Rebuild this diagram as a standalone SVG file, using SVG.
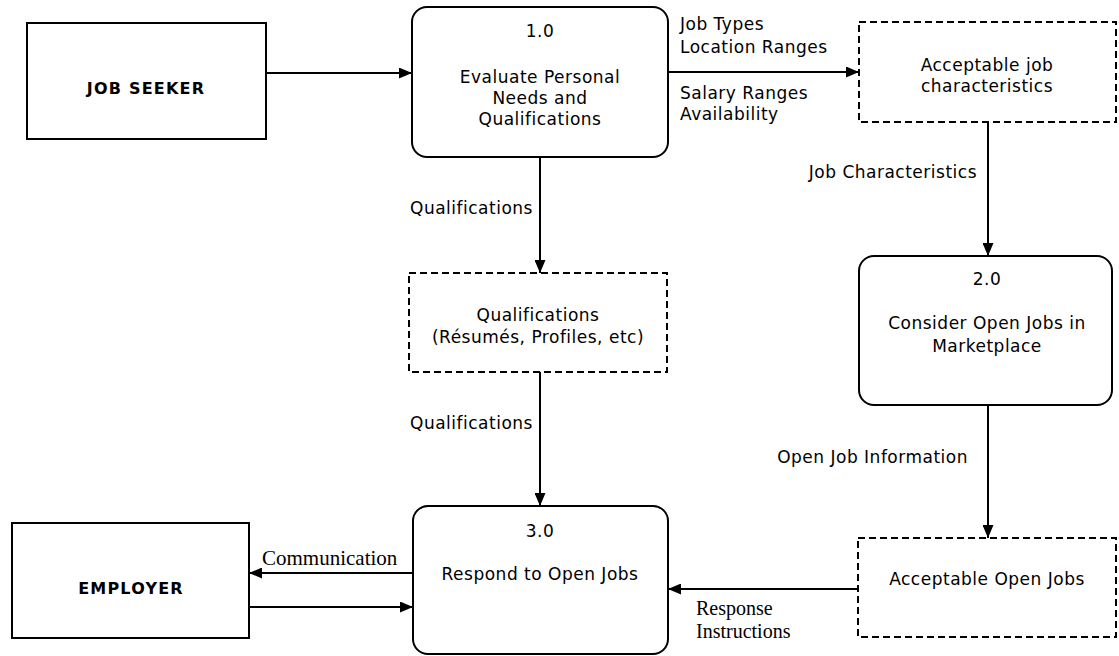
<svg xmlns="http://www.w3.org/2000/svg" width="1119" height="656" viewBox="0 0 1119 656">
<style>
.bg{fill:#fff}
.ent{fill:#fff;stroke:#000;stroke-width:2}
.proc{fill:#fff;stroke:#000;stroke-width:2}
.store{fill:#fff;stroke:#000;stroke-width:2;stroke-dasharray:7,4}
.t{font-family:"DejaVu Sans",Verdana,sans-serif;font-size:17px;fill:#000;letter-spacing:0.5px}
.c{text-anchor:middle}
.b{font-family:"DejaVu Sans",Verdana,sans-serif;font-size:16px;font-weight:bold;fill:#000;letter-spacing:1.2px;text-anchor:middle}
.s{font-family:"Liberation Serif","Times New Roman",serif;font-size:20px;fill:#000}
.ln{fill:none;stroke:#000;stroke-width:2}
</style>
<defs>
<marker id="ah" viewBox="0 0 13 11" refX="13" refY="5.5" markerWidth="13" markerHeight="11" markerUnits="userSpaceOnUse" orient="auto">
<path d="M0,0 L13,5.5 L0,11 Z" fill="#000"/>
</marker>
</defs>
<rect class="bg" x="0" y="0" width="1119" height="656"/>

<g id="connectors">
<line class="ln" x1="266" y1="73" x2="412" y2="73" marker-end="url(#ah)"/>
<line class="ln" x1="668" y1="72" x2="859" y2="72" marker-end="url(#ah)"/>
<line class="ln" x1="540" y1="157" x2="540" y2="273" marker-end="url(#ah)"/>
<line class="ln" x1="988" y1="122" x2="988" y2="256" marker-end="url(#ah)"/>
<line class="ln" x1="540" y1="372" x2="540" y2="506" marker-end="url(#ah)"/>
<line class="ln" x1="988" y1="405" x2="988" y2="538" marker-end="url(#ah)"/>
<line class="ln" x1="858" y1="589" x2="668" y2="589" marker-end="url(#ah)"/>
<line class="ln" x1="413" y1="573" x2="249" y2="573" marker-end="url(#ah)"/>
<line class="ln" x1="249" y1="607" x2="413" y2="607" marker-end="url(#ah)"/>
<text class="t" x="680" y="30">Job Types</text>
<text class="t" x="680" y="53">Location Ranges</text>
<text class="t" x="680" y="99">Salary Ranges</text>
<text class="t" x="680" y="120">Availability</text>
<text class="t" x="410" y="214">Qualifications</text>
<text class="t" x="410" y="429">Qualifications</text>
<text class="t" x="977" y="178" text-anchor="end">Job Characteristics</text>
<text class="t" x="968" y="463" text-anchor="end">Open Job Information</text>
<text class="s" x="262" y="565" style="font-size:21px">Communication</text>
<text class="s" x="696" y="615">Response</text>
<text class="s" x="696" y="638">Instructions</text>
</g>

<g id="job-seeker">
<rect class="ent" x="27" y="23" width="239" height="116"/>
<text class="b" x="146" y="94">JOB SEEKER</text>
</g>

<g id="employer">
<rect class="ent" x="12" y="523" width="237" height="115"/>
<text class="b" x="131" y="594">EMPLOYER</text>
</g>

<g id="p1">
<rect class="proc" x="412" y="7" width="256" height="150" rx="15" ry="15"/>
<text class="t c" x="540" y="37">1.0</text>
<text class="t c" x="540" y="83">Evaluate Personal</text>
<text class="t c" x="540" y="104">Needs and</text>
<text class="t c" x="540" y="125">Qualifications</text>
</g>

<g id="p2">
<rect class="proc" x="859" y="256" width="253" height="149" rx="15" ry="15"/>
<text class="t c" x="987" y="285">2.0</text>
<text class="t c" x="987" y="329">Consider Open Jobs in</text>
<text class="t c" x="987" y="352">Marketplace</text>
</g>

<g id="p3">
<rect class="proc" x="413" y="506" width="255" height="148" rx="15" ry="15"/>
<text class="t c" x="540" y="537">3.0</text>
<text class="t c" x="540" y="580">Respond to Open Jobs</text>
</g>

<g id="store-job-char">
<rect class="store" x="859" y="22" width="257" height="100"/>
<text class="t c" x="987" y="71">Acceptable job</text>
<text class="t c" x="987" y="92">characteristics</text>
</g>

<g id="store-qual">
<rect class="store" x="409" y="273" width="258" height="99"/>
<text class="t c" x="538" y="321">Qualifications</text>
<text class="t c" x="538" y="343">(Résumés, Profiles, etc)</text>
</g>

<g id="store-open-jobs">
<rect class="store" x="858" y="538" width="258" height="99"/>
<text class="t c" x="987" y="585">Acceptable Open Jobs</text>
</g>
</svg>
